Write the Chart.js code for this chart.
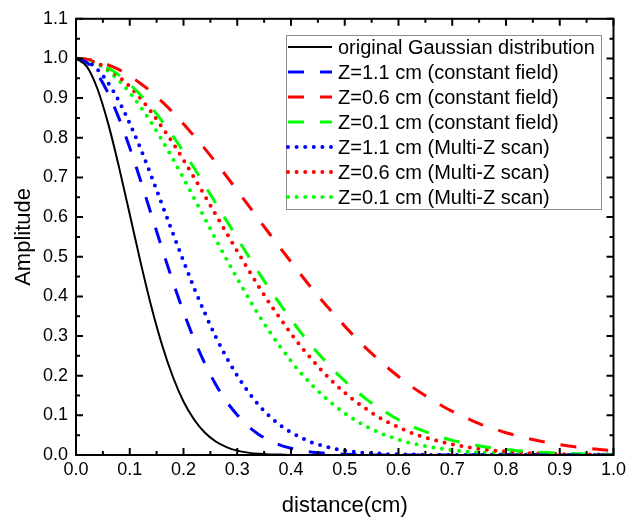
<!DOCTYPE html>
<html lang="en">
<head>
<meta charset="UTF-8">
<title>Amplitude x distance</title>
<script src="https://cdn.jsdelivr.net/npm/chart.js"></script>
<style>
  body { margin: 0; background: #fff; }
  #caixa { width: 630px; height: 520px; }
</style>
</head>
<body>
<div id="caixa"><canvas id="grafico" width="630" height="520"></canvas></div>

<script>
// eixo x (cm)
const distancia = [0, 0.02, 0.04, 0.06, 0.08, 0.10, 0.12, 0.14, 0.16, 0.18, 0.20, 0.22, 0.24, 0.26, 0.28,
  0.30, 0.32, 0.34, 0.36, 0.38, 0.40, 0.42, 0.44, 0.46, 0.48, 0.50, 0.52, 0.54, 0.56, 0.58, 0.60,
  0.62, 0.64, 0.66, 0.68, 0.70, 0.72, 0.74, 0.76, 0.78, 0.80, 0.82, 0.84, 0.86, 0.88, 0.90, 0.92,
  0.94, 0.96, 0.98, 1.00];

// valores
const gaussOriginal = [1, 0.980, 0.923, 0.835, 0.726, 0.607, 0.487, 0.375, 0.278, 0.198, 0.135, 0.089,
  0.056, 0.034, 0.020, 0.011, 0.006, 0.003, 0.0015, 0.001, 0, 0, 0, 0, 0, 0, 0, 0, 0, 0, 0, 0, 0, 0,
  0, 0, 0, 0, 0, 0, 0, 0, 0, 0, 0, 0, 0, 0, 0, 0, 0];
const z11Constante = [1, 0.990, 0.960, 0.912, 0.849, 0.775, 0.693, 0.607, 0.521, 0.438, 0.361, 0.291,
  0.230, 0.178, 0.135, 0.101, 0.073, 0.052, 0.037, 0.025, 0.017, 0.011, 0.007, 0.005, 0.003, 0.002,
  0.001, 0, 0, 0, 0, 0, 0, 0, 0, 0, 0, 0, 0, 0, 0, 0, 0, 0, 0, 0, 0, 0, 0, 0, 0];
const z06Constante = [1, 0.998, 0.993, 0.984, 0.972, 0.956, 0.937, 0.916, 0.891, 0.864, 0.835, 0.804,
  0.772, 0.738, 0.703, 0.667, 0.631, 0.594, 0.558, 0.522, 0.487, 0.452, 0.418, 0.386, 0.355, 0.325,
  0.296, 0.269, 0.244, 0.220, 0.198, 0.177, 0.158, 0.141, 0.125, 0.110, 0.097, 0.085, 0.074, 0.065,
  0.056, 0.049, 0.042, 0.036, 0.031, 0.026, 0.022, 0.019, 0.016, 0.013, 0.011];
const z01Constante = [1, 0.997, 0.989, 0.976, 0.958, 0.935, 0.908, 0.877, 0.842, 0.805, 0.765, 0.723,
  0.679, 0.635, 0.591, 0.547, 0.503, 0.460, 0.419, 0.380, 0.342, 0.306, 0.273, 0.242, 0.213, 0.187,
  0.163, 0.141, 0.122, 0.105, 0.089, 0.076, 0.064, 0.054, 0.045, 0.037, 0.031, 0.025, 0.021, 0.017,
  0.014, 0.011, 0.009, 0.007, 0.006, 0.004, 0.003, 0.003, 0.002, 0.002, 0.001];
const z11Multi = [1, 0.993, 0.972, 0.938, 0.892, 0.836, 0.773, 0.704, 0.632, 0.560, 0.489, 0.420,
  0.357, 0.298, 0.246, 0.200, 0.160, 0.126, 0.098, 0.075, 0.057, 0.043, 0.031, 0.023, 0.016, 0.011,
  0.008, 0.005, 0.004, 0.002, 0.002, 0.001, 0.001, 0, 0, 0, 0, 0, 0, 0, 0, 0, 0, 0, 0, 0, 0, 0, 0, 0, 0];
const z06Multi = [1, 0.997, 0.988, 0.974, 0.954, 0.929, 0.899, 0.865, 0.827, 0.787, 0.744, 0.699,
  0.653, 0.606, 0.560, 0.514, 0.469, 0.425, 0.383, 0.344, 0.306, 0.271, 0.239, 0.209, 0.182, 0.157,
  0.135, 0.116, 0.098, 0.083, 0.070, 0.058, 0.048, 0.040, 0.033, 0.027, 0.022, 0.017, 0.014, 0.011,
  0.009, 0.007, 0.005, 0.004, 0.003, 0.002, 0.002, 0.001, 0.001, 0.001, 0.001];
const z01Multi = [1, 0.996, 0.986, 0.968, 0.944, 0.914, 0.878, 0.838, 0.794, 0.747, 0.698, 0.647,
  0.596, 0.544, 0.494, 0.445, 0.398, 0.353, 0.311, 0.273, 0.237, 0.204, 0.175, 0.149, 0.126, 0.105,
  0.088, 0.072, 0.059, 0.048, 0.039, 0.031, 0.025, 0.020, 0.016, 0.012, 0.009, 0.007, 0.006, 0.004,
  0.003, 0.002, 0.002, 0.001, 0.001, 0, 0, 0, 0, 0, 0];

const nomes = [
  'original Gaussian distribution',
  'Z=1.1 cm (constant field)',
  'Z=0.6 cm (constant field)',
  'Z=0.1 cm (constant field)',
  'Z=1.1 cm (Multi-Z scan)',
  'Z=0.6 cm (Multi-Z scan)',
  'Z=0.1 cm (Multi-Z scan)'
];

const fonte = '"Liberation Sans", Arial, sans-serif';

function pontos(valores) {
  return valores.map((v, i) => ({ x: distancia[i], y: v }));
}

function serie(nome, valores, cor, tipo) {
  const ds = {
    label: nome,
    data: pontos(valores),
    borderColor: cor,
    backgroundColor: cor,
    pointRadius: 0,
    fill: false,
    cubicInterpolationMode: 'monotone'
  };
  if (tipo == 'solido') {
    ds.borderWidth = 2;
  } else if (tipo == 'tracejado') {
    ds.borderWidth = 3;
    ds.borderDash = [16, 16];
  } else {
    ds.borderWidth = 4;
    ds.borderDash = [0, 8.6];
    ds.borderCapStyle = 'round';
  }
  return ds;
}

// moldura com ticks para dentro nos 4 lados
const moldura = {
  id: 'moldura',
  afterDatasetsDraw(chart) {
    const ctx = chart.ctx;
    const a = chart.chartArea;
    const sx = chart.scales.x;
    const sy = chart.scales.y;
    ctx.save();
    ctx.strokeStyle = '#000';
    ctx.lineWidth = 2;
    ctx.beginPath();
    for (let i = 0; i <= 20; i++) {
      const px = sx.getPixelForValue(i * 0.05);
      const t = i % 2 == 0 ? 7 : 4;
      ctx.moveTo(px, a.bottom); ctx.lineTo(px, a.bottom - t);
      ctx.moveTo(px, a.top); ctx.lineTo(px, a.top + t);
    }
    for (let i = 0; i <= 22; i++) {
      const py = sy.getPixelForValue(i * 0.05);
      const t = i % 2 == 0 ? 7 : 4;
      ctx.moveTo(a.left, py); ctx.lineTo(a.left + t, py);
      ctx.moveTo(a.right, py); ctx.lineTo(a.right - t, py);
    }
    ctx.stroke();
    ctx.strokeRect(a.left, a.top, a.right - a.left, a.bottom - a.top);
    ctx.restore();
  }
};

// legenda desenhada dentro da area do grafico
const legendaInterna = {
  id: 'legendaInterna',
  afterDraw(chart) {
    const ctx = chart.ctx;
    const x0 = 286, y0 = 35, x1 = 602, y1 = 210;
    ctx.save();
    ctx.fillStyle = '#fff';
    ctx.fillRect(x0, y0, x1 - x0, y1 - y0);
    ctx.strokeStyle = '#8c8c8c';
    ctx.lineWidth = 1;
    ctx.strokeRect(x0 + 0.5, y0 + 0.5, x1 - x0 - 1, y1 - y0 - 1);

    ctx.font = '20px ' + fonte;
    ctx.textBaseline = 'middle';
    chart.data.datasets.forEach((ds, i) => {
      const y = 47 + i * 25;
      ctx.save();
      ctx.strokeStyle = ds.borderColor;
      ctx.lineWidth = ds.borderWidth;
      ctx.setLineDash(ds.borderDash || []);
      ctx.lineCap = ds.borderCapStyle || 'butt';
      ctx.beginPath();
      ctx.moveTo(x0 + 2, y);
      ctx.lineTo(x0 + 46, y);
      ctx.stroke();
      ctx.restore();
      ctx.fillStyle = '#000';
      ctx.fillText(ds.label, 338, y + 1);
    });
    ctx.restore();
  }
};

Chart.defaults.font.family = fonte;
Chart.defaults.color = '#000';

const grafico = new Chart(document.getElementById('grafico'), {
  type: 'line',
  data: {
    datasets: [
      serie(nomes[0], gaussOriginal, '#000000', 'solido'),
      serie(nomes[1], z11Constante, '#0000ff', 'tracejado'),
      serie(nomes[2], z06Constante, '#ff0000', 'tracejado'),
      serie(nomes[3], z01Constante, '#00ff00', 'tracejado'),
      serie(nomes[4], z11Multi, '#0000ff', 'pontilhado'),
      serie(nomes[5], z06Multi, '#ff0000', 'pontilhado'),
      serie(nomes[6], z01Multi, '#00ff00', 'pontilhado')
    ]
  },
  options: {
    responsive: false,
    animation: false,
    layout: { padding: { left: 0, right: 12, top: 17, bottom: 0 } },
    plugins: {
      legend: { display: false },
      tooltip: { enabled: false }
    },
    scales: {
      x: {
        type: 'linear',
        min: 0,
        max: 1,
        grid: { display: false, drawTicks: false },
        border: { display: false },
        ticks: {
          stepSize: 0.1,
          padding: 4,
          maxRotation: 0,
          font: { size: 18 },
          callback: v => Number(v).toFixed(1)
        },
        title: {
          display: true,
          text: 'distance(cm)',
          font: { size: 22 },
          padding: { top: 0, bottom: 1 }
        },
        afterFit: s => { s.height = 65; }
      },
      y: {
        min: 0,
        max: 1.1,
        grid: { display: false, drawTicks: false },
        border: { display: false },
        ticks: {
          stepSize: 0.1,
          padding: 8,
          font: { size: 18 },
          callback: v => Number(v).toFixed(1)
        },
        title: {
          display: true,
          text: 'Amplitude',
          font: { size: 22 },
          padding: { top: 11, bottom: 0 }
        },
        afterFit: s => { s.width = 76; }
      }
    }
  },
  plugins: [moldura, legendaInterna]
});
</script>
</body>
</html>
